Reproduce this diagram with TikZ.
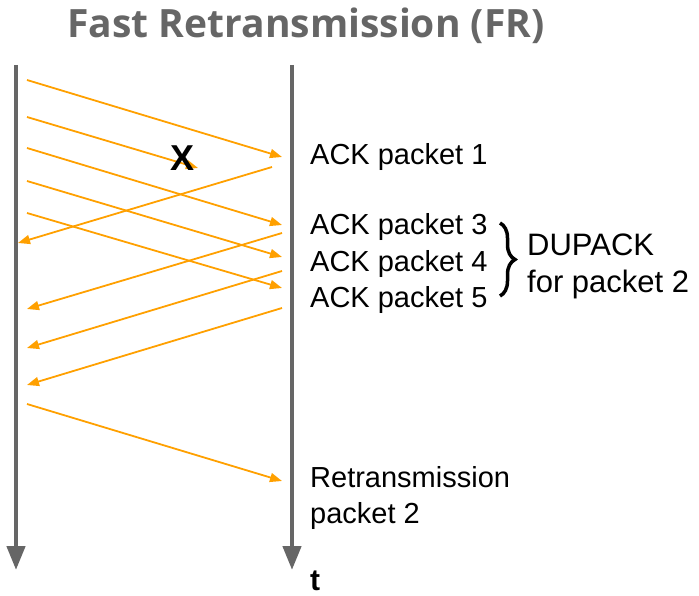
\documentclass[tikz,border=0pt]{standalone}
\usepackage{fontspec}
\setmainfont{Liberation Sans}
\newfontfamily\titlefont{Open Sans}
\usetikzlibrary{arrows.meta, positioning, decorations.pathreplacing}
\definecolor{pktorange}{HTML}{FFA000}
\definecolor{linegray}{HTML}{666666}

\begin{document}
\begin{tikzpicture}[x=1pt, y=-1pt, >={Triangle[length=12pt,width=9pt]},
    timeline/.style={line width=4.5pt, linegray, -{Triangle[length=24pt,width=18pt]}},
    pkt/.style={->, pktorange, line width=1.8pt, shorten >=0pt},
    lbl/.style={inner sep=0pt, font=\fontsize{29}{36}\selectfont, text height=22pt, text depth=14pt},
    brace/.style={decorate, decoration={brace, amplitude=15pt, aspect=0.5}, line width=3.5pt}]
  \useasboundingbox (0,0) rectangle (699,596);

  \node[text=linegray, font=\titlefont\bfseries\fontsize{39}{42}\selectfont] (title) at (306,26) {Fast Retransmission (FR)};

  % time lines of sender and receiver
  \coordinate (sTop) at (16,65);  \coordinate (sEnd) at (16,570);
  \coordinate (rTop) at (292,65); \coordinate (rEnd) at (292,570);
  \draw[timeline] (sTop) -- (sEnd);
  \draw[timeline] (rTop) -- (rEnd);

  % data packets
  \foreach \i/\a/\b in {1/80/157, 3/148/225, 4/181/257, 5/213/288, 6/404/481} {
    \coordinate (s\i) at (27,\a);
    \coordinate (r\i) at (282,\b);
    \draw[pkt] (s\i) -- (r\i);
  }
  \coordinate (s2) at (27,117);
  \coordinate (lost) at (198,168);
  \draw[pkt] (s2) -- (lost);
  \node[inner sep=0pt, font=\bfseries\fontsize{36}{36}\selectfont] (x) at (183,158) {X};

  % acknowledgements
  \coordinate (a1) at (272,167); \coordinate (b1) at (18,243);
  \draw[pkt] (a1) -- (b1);
  \foreach \i/\a/\b in {3/233/309, 4/271/348, 5/308/385} {
    \coordinate (a\i) at (282,\a);
    \coordinate (b\i) at (27,\b);
    \draw[pkt] (a\i) -- (b\i);
  }

  % labels
  \node[lbl, anchor=west] (ack1) at (310,161) {ACK packet 1};
  \node[lbl, anchor=west] (ack3) at (310,231) {ACK packet 3};
  \node[lbl, below=0pt of ack3] (ack4) {ACK packet 4};
  \node[lbl, below=0pt of ack4] (ack5) {ACK packet 5};

  \coordinate (brTop) at (500,223);
  \coordinate (brEnd) at (500,296);
  \draw[brace] (brTop) -- (brEnd);
  \node[lbl, align=left, anchor=west, text height=, text depth=, font=\fontsize{31}{37}\selectfont] (dup) at (527,266) {DUPACK\\for packet 2};

  \node[lbl, align=left, anchor=west, text height=, text depth=] (retr) at (310,498) {Retransmission\\packet 2};

  \node[inner sep=0pt, font=\bfseries\fontsize{30}{30}\selectfont] (t) at (315,581) {t};
\end{tikzpicture}
\end{document}
